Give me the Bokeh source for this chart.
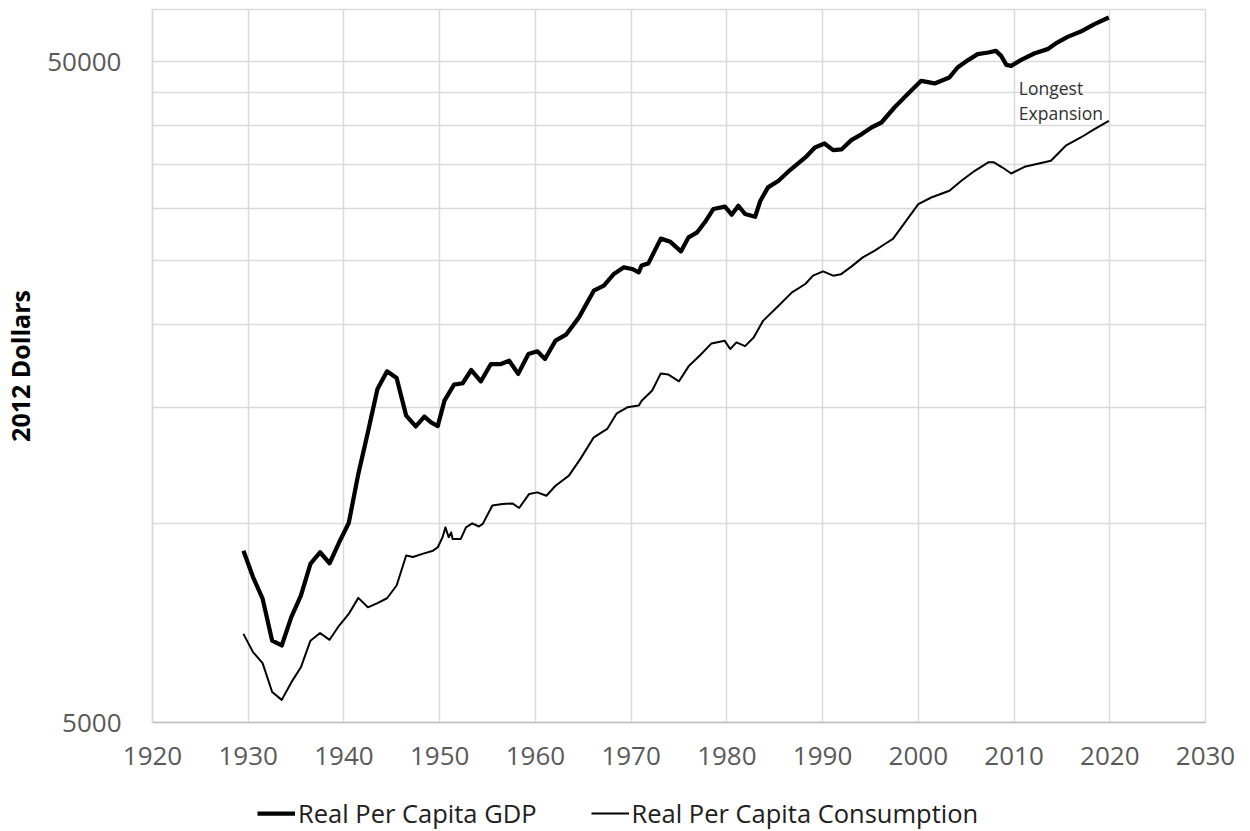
from bokeh.plotting import figure
from bokeh.layouts import column
from bokeh.models import FixedTicker, Legend, LegendItem, Label, Range1d, PrintfTickFormatter
from bokeh.embed import file_html
from bokeh.resources import INLINE

# ---- data ----
gdp_year = [1929.5, 1930.5, 1931.5, 1932.5, 1933.5, 1934.5, 1935.5, 1936.5, 1937.5, 1938.5,
            1939.5, 1940.5, 1941.5, 1942.5, 1943.5, 1944.5, 1945.5, 1946.5, 1947.5, 1948.4,
            1949.1, 1949.8, 1950.5, 1951.5, 1952.4, 1953.3, 1954.3, 1955.35, 1956.4, 1957.26,
            1958.2, 1959.27, 1960.2, 1961.0, 1962.1, 1963.2, 1964.55, 1966.1, 1967.15, 1968.2,
            1969.24, 1970.1, 1970.8, 1971.1, 1971.8, 1973.1, 1974.1, 1975.2, 1976.0, 1976.9,
            1977.7, 1978.6, 1979.8, 1980.5, 1981.2, 1981.9, 1982.95, 1983.5, 1984.3, 1985.4,
            1986.6, 1988.2, 1989.2, 1990.2, 1991.1, 1992.0, 1993.0, 1994.1, 1995.1, 1996.15,
            1997.5, 1998.9, 2000.3, 2001.7, 2003.25, 2004.1, 2005.2, 2006.2, 2007.3, 2008.1,
            2008.65, 2009.2, 2009.7, 2010.7, 2012.1, 2013.5, 2014.5, 2015.6, 2016.97, 2018.4,
            2019.9]
gdp_value = [9100, 8300, 7700, 6650, 6540, 7220, 7780, 8690, 9050, 8710,
             9370, 10020, 11890, 13750, 15990, 17000, 16610, 14570, 14030, 14520,
             14230, 14050, 15350, 16230, 16310, 17080, 16420, 17440, 17440, 17640,
             16850, 18060, 18230, 17750, 18920, 19320, 20520, 22520, 22920, 23870,
             24430, 24290, 24010, 24590, 24770, 27000, 26700, 25820, 27120, 27600,
             28580, 29940, 30180, 29350, 30280, 29420, 29140, 30810, 32280, 33040,
             34290, 35830, 37100, 37620, 36760, 36860, 38060, 38870, 39770, 40470,
             42640, 44680, 46800, 46370, 47350, 49020, 50300, 51360, 51650, 51950,
             51050, 49480, 49310, 50300, 51470, 52260, 53470, 54540, 55560, 57010,
             58340]

cons_year = [1929.5, 1930.5, 1931.5, 1932.5, 1933.5, 1934.5, 1935.5, 1936.5, 1937.5, 1938.5,
             1939.5, 1940.5, 1941.5, 1942.5, 1943.5, 1944.5, 1945.5, 1946.5, 1947.2, 1948.2,
             1949.3, 1949.8, 1950.3, 1950.6, 1950.94, 1951.2, 1951.35, 1952.2, 1952.75, 1953.4,
             1954.1, 1954.5, 1955.5, 1956.56, 1957.6, 1958.3, 1959.35, 1960.2, 1961.15, 1962.1,
             1963.5, 1964.7, 1966.1, 1967.5, 1968.5, 1969.6, 1970.8, 1971.1, 1972.2, 1973.1,
             1973.9, 1975.0, 1976.0, 1977.2, 1978.4, 1979.76, 1980.35, 1981.0, 1981.9, 1982.8,
             1983.8, 1985.4, 1986.8, 1988.2, 1989.0, 1990.05, 1991.1, 1991.9, 1993.0, 1994.2,
             1995.45, 1996.5, 1997.35, 1998.8, 2000.0, 2001.35, 2003.25, 2004.5, 2005.9, 2007.3,
             2007.9, 2008.8, 2009.7, 2011.1, 2012.6, 2013.85, 2015.4, 2016.97, 2018.4, 2019.9]
cons_value = [6810, 6390, 6150, 5560, 5410, 5750, 6060, 6650, 6830, 6670,
              7010, 7300, 7720, 7470, 7580, 7710, 8060, 8950, 8900, 9000,
              9100, 9210, 9535, 9870, 9535, 9700, 9480, 9480, 9870, 10010,
              9900, 9990, 10650, 10710, 10730, 10560, 11090, 11150, 11020, 11410,
              11820, 12530, 13510, 13910, 14690, 15000, 15090, 15350, 15900, 16880,
              16810, 16420, 17300, 17980, 18740, 18920, 18380, 18810, 18560, 19130,
              20290, 21370, 22390, 23050, 23730, 24090, 23730, 23840, 24490, 25290,
              25890, 26500, 26970, 28830, 30450, 31160, 31900, 33040, 34200, 35220,
              35220, 34590, 33880, 34680, 35090, 35420, 37320, 38410, 39550, 40700]

series_labels = ["Real Per Capita GDP", "Real Per Capita Consumption"]
x_ticks = [1920, 1930, 1940, 1950, 1960, 1970, 1980, 1990, 2000, 2010, 2020, 2030]
y_ticks = [5000, 50000]
y_grid = [10000, 15000, 20000, 25000, 30000, 35000, 40000, 45000, 50000]
note_lines = ["Longest", "Expansion"]

FONT = "Open Sans"
GRID = "#d9d9d9"
GDP_STYLE = dict(line_width=4.25, line_color="black", line_join="round")
CONS_STYLE = dict(line_width=2, line_color="black", line_join="round")

p = figure(width=1250, height=784, x_range=Range1d(1920, 2030), y_range=Range1d(5000, 60000),
           y_axis_type="log", output_backend="svg", toolbar_location=None,
           min_border_left=149, min_border_right=45, min_border_top=9, min_border_bottom=62)
p.background_fill_color = "white"
p.border_fill_color = "white"
p.outline_line_color = GRID
p.outline_line_width = 1.5

# grids
p.xgrid.ticker = FixedTicker(ticks=x_ticks)
p.ygrid.ticker = FixedTicker(ticks=y_grid)
p.xgrid.grid_line_color = GRID
p.ygrid.grid_line_color = GRID
p.xgrid.grid_line_width = 1.5
p.ygrid.grid_line_width = 1.5

# axes
p.xaxis.ticker = FixedTicker(ticks=x_ticks)
p.yaxis.ticker = FixedTicker(ticks=y_ticks)
p.yaxis.formatter = PrintfTickFormatter(format="%d")
for ax in (p.xaxis[0], p.yaxis[0]):
    ax.major_tick_line_color = None
    ax.minor_tick_line_color = None
    ax.major_tick_out = 0
    ax.minor_tick_out = 0
    ax.major_label_text_font = FONT
    ax.major_label_text_font_size = "26px"
    ax.major_label_text_color = "#595959"
p.xaxis.axis_line_color = "#bfbfbf"
p.xaxis.axis_line_width = 1.5
p.yaxis.axis_line_color = GRID
p.yaxis.axis_line_width = 1.5
p.xaxis.major_label_standoff = 24
p.yaxis.major_label_standoff = 31
p.yaxis.axis_label = "2012 Dollars"
p.yaxis.axis_label_text_font = FONT
p.yaxis.axis_label_text_font_style = "bold"
p.yaxis.axis_label_text_font_size = "25px"
p.yaxis.axis_label_text_color = "black"
p.yaxis.axis_label_standoff = 7

# series
p.line(gdp_year, gdp_value, **GDP_STYLE)
p.line(cons_year, cons_value, **CONS_STYLE)

p.add_layout(Label(x=2010.5, y=45670, text=note_lines[0], text_font=FONT, text_font_size="17.5px",
                   text_color="#303030", text_baseline="middle"))
p.add_layout(Label(x=2010.5, y=41860, text=note_lines[1], text_font=FONT, text_font_size="17.5px",
                   text_color="#303030", text_baseline="middle"))

# legend strip below the chart; its keys re-use the series with the same line styles
# (the strip's own ranges keep the data itself out of view)
lg = figure(width=1250, height=46, x_range=Range1d(0, 1), y_range=Range1d(0, 1),
            output_backend="svg", toolbar_location=None, min_border=0)
lg.axis.visible = False
lg.grid.visible = False
lg.outline_line_color = None
lg.background_fill_color = "white"
lg.border_fill_color = "white"
k_gdp = lg.line(gdp_year, gdp_value, **GDP_STYLE)
k_cons = lg.line(cons_year, cons_value, **CONS_STYLE)
legend = Legend(items=[LegendItem(label=series_labels[0], renderers=[k_gdp]),
                       LegendItem(label=series_labels[1], renderers=[k_cons])],
                orientation="horizontal", location=(105, 0),
                glyph_width=38, glyph_height=20, label_standoff=3, spacing=54,
                padding=0, margin=0, border_line_color=None, background_fill_alpha=0,
                label_text_font=FONT, label_text_font_size="25.5px", label_text_color="#202020")
lg.add_layout(legend)

open("out.html", "w").write(file_html(column(p, lg, spacing=0), INLINE))
